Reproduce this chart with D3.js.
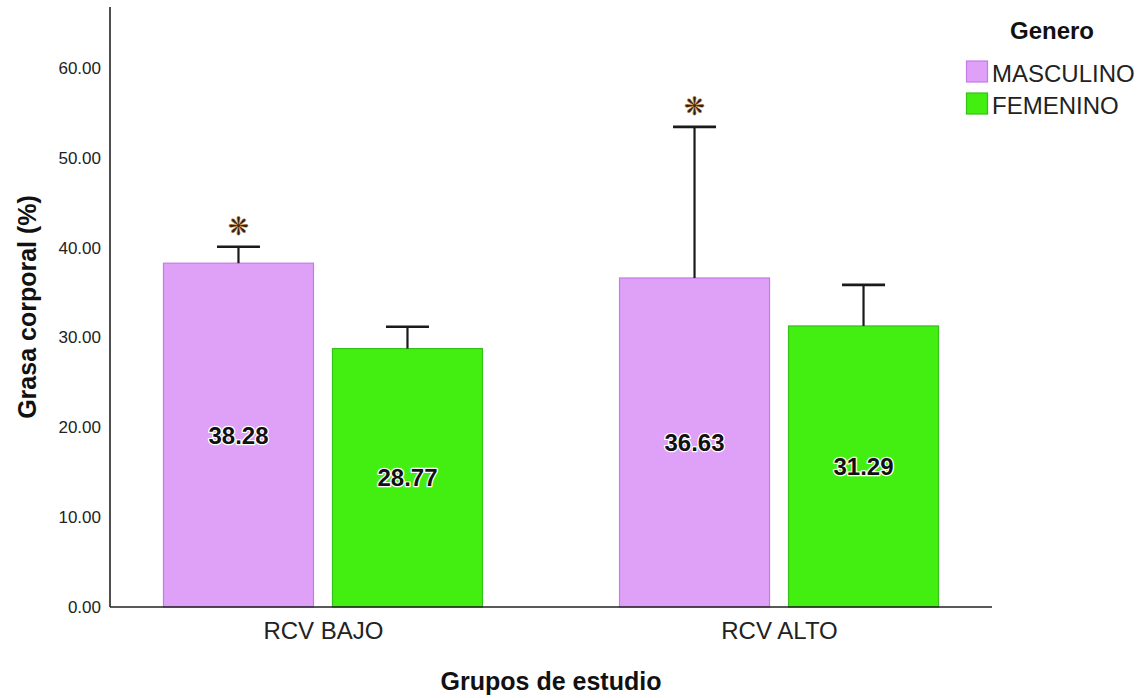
<!DOCTYPE html>
<html><head><meta charset="utf-8">
<script src="https://cdn.jsdelivr.net/npm/d3@7"></script>
<style>body{margin:0;background:#fff}svg{display:block}</style>
</head><body>
<svg id="c" width="1144" height="698"></svg>
<script>
const categories = ["RCV BAJO", "RCV ALTO"];
const seriesNames = ["MASCULINO", "FEMENINO"];
const masculino = [38.28, 36.63];
const femenino = [28.77, 31.29];
const masculinoUpper = [40.1, 53.45];
const femeninoUpper = [31.2, 35.86];
const masculinoSig = [true, true];
const femeninoSig = [false, false];
const yTicks = [0, 10, 20, 30, 40, 50, 60];

(function () {
const fills = {MASCULINO: "#dea1f7", FEMENINO: "#43ef10"};
const strokes = {MASCULINO: "#c47be6", FEMENINO: "#35c01a"};

const svg = d3.select("#c");
const pL = 110, pR = 992, pT = 7, pB = 607;
const y = d3.scaleLinear().domain([0, 66.8]).range([pB, pT]);
const x = d3.scalePoint().domain(categories).range([pL, pR]).padding(0.467);
const xs = d3.scaleBand().domain(seriesNames).range([-160, 160]).paddingInner(0.1065);

const rows = [];
categories.forEach((c, i) => {
  rows.push({cat: c, s: "MASCULINO", v: masculino[i], up: masculinoUpper[i], sig: masculinoSig[i]});
  rows.push({cat: c, s: "FEMENINO", v: femenino[i], up: femeninoUpper[i], sig: femeninoSig[i]});
});

const font = "Arial, 'Liberation Sans', sans-serif";

// bars
svg.append("g").selectAll("rect").data(rows).join("rect")
  .attr("x", d => x(d.cat) + xs(d.s) + 0.5)
  .attr("y", d => y(d.v))
  .attr("width", xs.bandwidth() - 1)
  .attr("height", d => y(0) - y(d.v))
  .attr("fill", d => fills[d.s])
  .attr("stroke", d => strokes[d.s])
  .attr("stroke-width", 1.2);

// error bars
const eb = svg.append("g").attr("stroke", "#1a1a1a").attr("stroke-width", 2.2);
rows.forEach(d => {
  const cx = x(d.cat) + xs(d.s) + xs.bandwidth() / 2;
  eb.append("line").attr("x1", cx).attr("x2", cx).attr("y1", y(d.v)).attr("y2", y(d.up));
  eb.append("line").attr("x1", cx - 21.5).attr("x2", cx + 21.5).attr("y1", y(d.up)).attr("y2", y(d.up)).attr("stroke-width", 2.6);
});

// asterisks
svg.append("g").selectAll("text").data(rows.filter(d => d.sig)).join("text")
  .attr("x", d => x(d.cat) + xs(d.s) + xs.bandwidth() / 2)
  .attr("y", d => y(d.up) - 12)
  .attr("text-anchor", "middle")
  .attr("font-family", "'DejaVu Sans', sans-serif")
  .attr("font-size", 25)
  .attr("fill", "#222")
  .attr("stroke", "#d98a3a").attr("stroke-width", 0.5)
  .text("❋");

// value labels
svg.append("g").selectAll("text").data(rows).join("text")
  .attr("x", d => x(d.cat) + xs(d.s) + xs.bandwidth() / 2)
  .attr("y", d => y(d.v / 2))
  .attr("dy", "0.36em")
  .attr("text-anchor", "middle")
  .attr("font-family", font)
  .attr("font-weight", "bold")
  .attr("font-size", 24)
  .attr("fill", "#111")
  .attr("stroke", "#fff").attr("stroke-width", 2.5).attr("paint-order", "stroke")
  .attr("stroke-linejoin", "round")
  .text(d => d.v.toFixed(2));

// y axis
const yAxis = d3.axisLeft(y).tickValues(yTicks).tickSize(0).tickPadding(9).tickFormat(d3.format(".2f"));
const gy = svg.append("g").attr("transform", `translate(${pL},0)`).call(yAxis);
gy.select(".domain").remove();
gy.selectAll("text").attr("font-family", font).attr("font-size", 17).attr("fill", "#222");
svg.append("line").attr("x1", pL).attr("x2", pL).attr("y1", pT).attr("y2", pB)
  .attr("stroke", "#222").attr("stroke-width", 1.6);

// x axis
const xAxis = d3.axisBottom(x).tickSize(0).tickPadding(15);
const gx = svg.append("g").attr("transform", `translate(0,${pB})`).call(xAxis);
gx.select(".domain").remove();
gx.selectAll("text").attr("font-family", font).attr("font-size", 24).attr("fill", "#222");
svg.append("line").attr("x1", pL).attr("x2", pR).attr("y1", pB).attr("y2", pB)
  .attr("stroke", "#222").attr("stroke-width", 1.6);

// axis titles
svg.append("text").attr("x", (pL + pR) / 2).attr("y", 690).attr("text-anchor", "middle")
  .attr("font-family", font).attr("font-weight", "bold").attr("font-size", 25).attr("fill", "#111")
  .text("Grupos de estudio");
svg.append("text").attr("transform", `translate(36,${(pT + pB) / 2}) rotate(-90)`)
  .attr("text-anchor", "middle")
  .attr("font-family", font).attr("font-weight", "bold").attr("font-size", 25).attr("fill", "#111")
  .text("Grasa corporal (%)");

// legend
const lg = svg.append("g");
lg.append("text").attr("x", 1052).attr("y", 39).attr("text-anchor", "middle")
  .attr("font-family", font).attr("font-weight", "bold").attr("font-size", 24).attr("fill", "#111")
  .text("Genero");
seriesNames.forEach((s, i) => {
  const yy = 61 + i * 32;
  lg.append("rect").attr("x", 966.5).attr("y", yy).attr("width", 21).attr("height", 21)
    .attr("fill", fills[s]).attr("stroke", strokes[s]).attr("stroke-width", 1.2);
  lg.append("text").attr("x", 992).attr("y", yy + 21)
    .attr("font-family", font).attr("font-size", 24).attr("fill", "#222").text(s);
});
})();
</script>
</body></html>
